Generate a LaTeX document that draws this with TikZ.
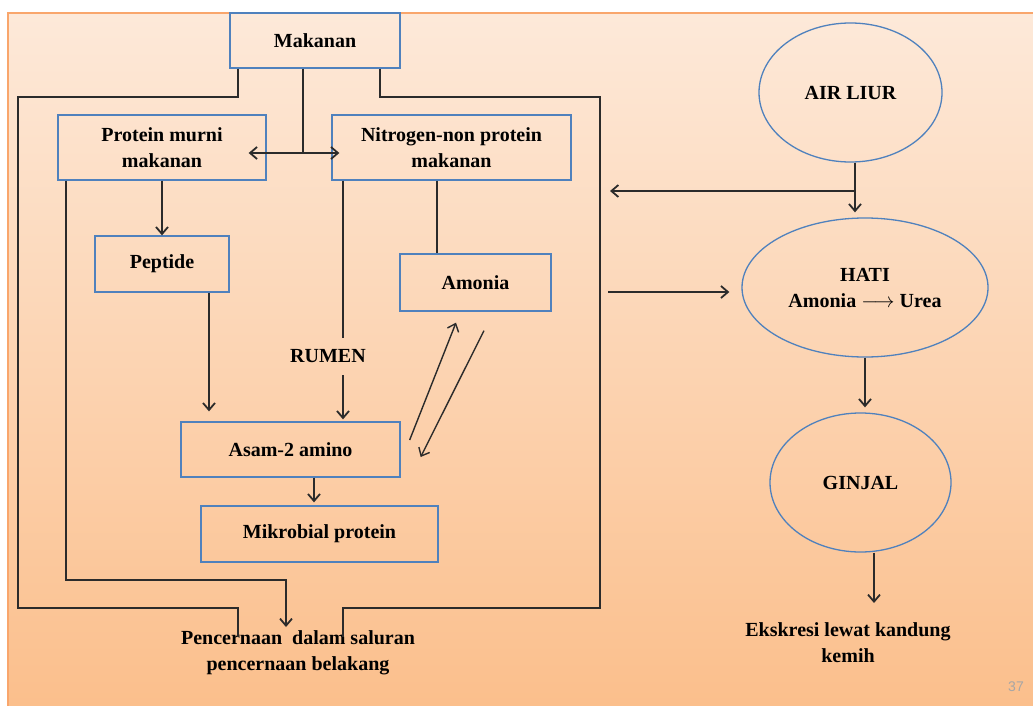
\documentclass[tikz,border=0pt]{standalone}
\usepackage{fontspec}
\setmainfont{Liberation Serif}
\setsansfont{Liberation Sans}
\usepackage{tikz}
\usetikzlibrary{positioning,arrows.meta,calc,shapes.geometric}
\definecolor{boxblue}{HTML}{4F81BD}
\definecolor{linegray}{HTML}{2B2B2B}
\definecolor{peachtop}{HTML}{FDE9D9}
\definecolor{peachbot}{HTML}{FBBF8C}
\definecolor{rimorange}{HTML}{F9A66C}
\tikzset{
 flow/.style={x=1pt,y=-1pt,
   >={Straight Barb[length=7pt,width=12pt]},
   every node/.style={font=\fontsize{20}{26}\selectfont\bfseries,align=center}},
 stage/.style={rectangle,draw=boxblue,line width=1.3pt,inner sep=2pt},
 organ/.style={ellipse,draw=boxblue,line width=1.3pt,inner sep=0pt},
 link/.style={draw=linegray,line width=1.8pt},
 thinlink/.style={draw=linegray,line width=1.4pt},
 phantom/.style={rectangle,inner sep=0pt,draw=none,fill=none}
 }
\begin{document}
\begin{tikzpicture}[flow]
  \useasboundingbox (0,0) rectangle (1033,706);
  \fill[white] (0,0) rectangle (1033,706);
  \shade[top color=peachtop,bottom color=peachbot] (8,13) rectangle (1033,706);
  \draw[rimorange,line width=2pt] (1033,13) -- (8,13) -- (8,706);

  % rumen
  \node[stage,minimum width=170pt,minimum height=55pt] (mk) at (315,40.5) {Makanan};
  \node[stage,minimum width=208pt,minimum height=65pt] (prot) at (162,147.5) {Protein murni\\makanan};
  \node[stage,minimum width=239pt,minimum height=65pt] (nit) at (451.5,147.5) {Nitrogen-non protein\\makanan};
  \node[stage,minimum width=134pt,minimum height=56pt] (pep) at (162,264) {Peptide};
  \node[stage,minimum width=151pt,minimum height=57pt] (amo) at (475.5,282.5) {Amonia};
  \node[stage,minimum width=219pt,minimum height=55pt] (asam) at (290.5,449.5) {Asam-2 amino};
  \node[stage,minimum width=237pt,minimum height=56pt] (mik) at (319.5,534) {Mikrobial protein};
  \node[phantom,minimum height=37pt] (rumen) at (328,356.5) {RUMEN};
  \node[anchor=north] (pen) at (298,627) {Pencernaan\enspace dalam saluran\\pencernaan belakang};

  \coordinate (junc) at (303,153);
  \coordinate (rx) at (343,0);
  \coordinate (ax) at (437,0);
  \coordinate (mx) at (314,0);
  \coordinate (penin) at (286,580);

  \draw[link] ([xshift=-77pt]mk.south) |- (18,97) |- (238,608) -- (238,637);
  \draw[link] ([xshift=65pt]mk.south) |- (600,97) |- (343,608) -- (343,637);
  \draw[link] (mk.south -| junc) -- (junc);
  \draw[link,<->] ($(prot.east |- junc)+(-18,0)$) -- ($(nit.west |- junc)+(8,0)$);
  \draw[link,->] (prot) -- (pep);
  \draw[link,->] ([xshift=-96pt]prot.south) |- (penin) -- (penin |- pen.north);
  \draw[link,->,shorten >=10pt] ([xshift=47pt]pep.south) -- ([xshift=47pt]pep.south |- asam.north);
  \draw[link] (nit.south -| rx) -- (rumen.north -| rx);
  \draw[link,->,shorten >=2pt] (rumen.south -| rx) -- (asam.north -| rx);
  \draw[link] (nit.south -| ax) -- (amo.north -| ax);
  \draw[thinlink,->] ($(asam.east)+(9,-9.5)$) -- ($(amo.south)+(-19.5,11)$);
  \draw[thinlink,->] ($(amo.south)+(8.5,19)$) -- ($(asam.east)+(20,7.5)$);
  \draw[link,->,shorten >=3pt] (asam.south -| mx) -- (mik.north -| mx);

  % organ
  \node[organ,minimum width=183pt,minimum height=139pt] (air) at (850.5,92.5) {AIR LIUR};
  \node[organ,minimum width=246pt,minimum height=139pt] (hati) at (865,287.5) {HATI\\Amonia $\longrightarrow$ Urea};
  \node[organ,minimum width=181pt,minimum height=139pt] (ginjal) at (860.5,482.5) {GINJAL};
  \node[anchor=north] (eks) at (848,619) {Ekskresi lewat kandung\\kemih};
  \node[font=\fontsize{14}{14}\selectfont\sffamily,text=black!35] (num) at (1016,687) {37};

  \coordinate (sj) at (855,191);
  \coordinate (lin) at (610,191);
  \coordinate (lout) at (608,292);
  \coordinate (gx) at (874,0);

  \draw[link,->,shorten >=5pt] (air.south -| sj) -- (hati.north -| sj);
  \draw[link,->] (sj) -- (lin);
  \draw[link,->,shorten >=12pt] (lout) -- (lout -| hati.west);
  \draw[link,->,shorten >=5pt] (hati.south) -- (ginjal.north -| hati.south);
  \draw[link,->,shorten >=16pt] (ginjal.south -| gx) -- (eks.north -| gx);
\end{tikzpicture}
\end{document}
